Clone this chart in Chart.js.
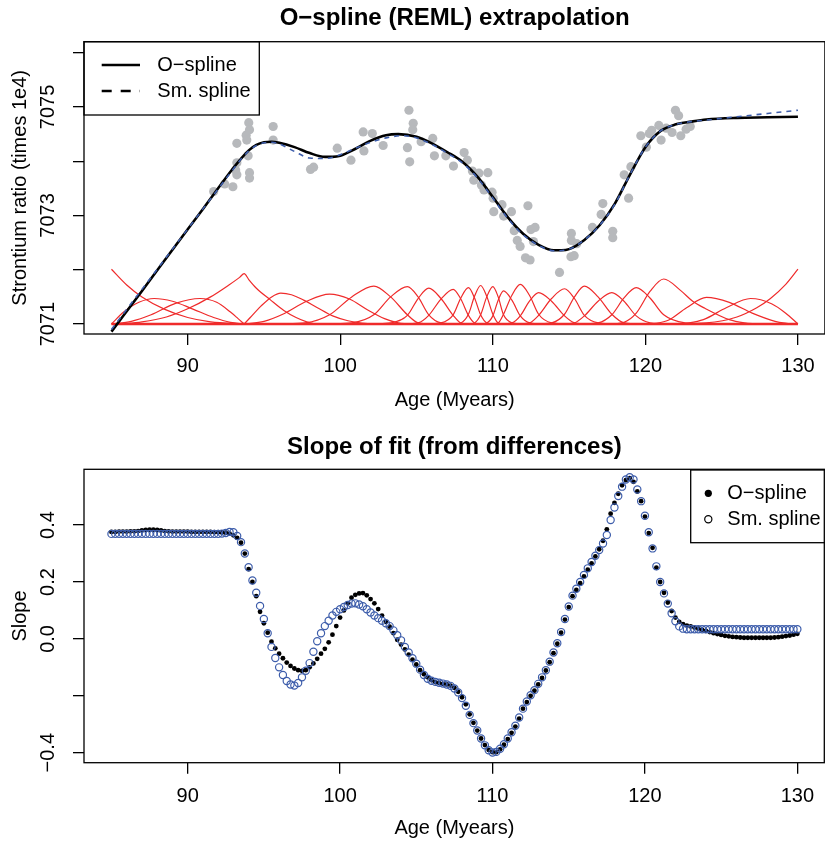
<!DOCTYPE html>
<html><head><meta charset="utf-8">
<script src="https://cdn.jsdelivr.net/npm/chart.js@4.4.0/dist/chart.umd.min.js"></script>
<style>
html,body{margin:0;padding:0;background:#fff;overflow:hidden;width:825px;height:844px;}
#wrap{width:830px;}
canvas{display:block;}
</style></head><body>
<div id="wrap">
<canvas id="c1" width="830" height="422"></canvas>
<canvas id="c2" width="830" height="422"></canvas>
</div>
<script>
// ---------- axis ticks ----------
const xTicks = [90, 100, 110, 120, 130];
const xTickLabels = ['90', '100', '110', '120', '130'];
const topYTicks = [7071, 7072, 7073, 7074, 7075, 7076];
const topYTickLabels = ['7071', '', '7073', '', '7075', ''];
const slopeYTicks = [-0.4, -0.2, 0, 0.2, 0.4];
const slopeYTickLabels = ['\u22120.4', '', '0.0', '0.2', '0.4'];

// ---------- observed data (grey points) ----------
const obsAge = [91.7, 92.42, 92.96, 93.14, 93.22, 93.22, 93.22, 93.83, 93.87, 94.0, 94.05, 93.96, 94.05, 94.05, 95.6, 95.6, 98.05, 98.25, 99.8, 100.7, 101.5, 101.55, 102.1, 102.81, 104.5, 104.78, 104.75, 104.4, 104.55, 105.3, 106.06, 106.17, 106.92, 107.42, 108.12, 108.33, 108.66, 108.75, 109.09, 109.67, 109.25, 109.42, 109.95, 110.02, 110.6, 110.06, 110.71, 111.22, 112.3, 111.4, 111.6, 111.79, 112.5, 112.77, 112.66, 112.14, 112.44, 114.37, 115.15, 115.15, 115.5, 115.12, 115.33, 116.53, 117.1, 117.21, 117.86, 117.86, 118.9, 118.61, 119.05, 119.7, 120.06, 120.26, 120.41, 120.88, 121.03, 121.36, 121.75, 121.97, 122.18, 122.32, 122.67, 122.94];
const obsRatio = [7073.44, 7073.58, 7073.53, 7073.84, 7073.97, 7073.75, 7074.33, 7074.48, 7074.39, 7074.71, 7074.58, 7074.10, 7073.79, 7073.69, 7074.64, 7074.39, 7073.85, 7073.89, 7074.24, 7074.02, 7074.54, 7074.19, 7074.51, 7074.29, 7074.94, 7074.70, 7074.58, 7074.25, 7073.99, 7074.36, 7074.42, 7074.10, 7074.10, 7073.91, 7074.16, 7074.02, 7073.82, 7073.65, 7073.78, 7073.79, 7073.56, 7073.47, 7073.43, 7073.32, 7073.20, 7073.07, 7072.99, 7073.07, 7073.18, 7072.72, 7072.54, 7072.43, 7072.74, 7072.78, 7072.52, 7072.22, 7072.18, 7071.95, 7072.67, 7072.54, 7072.48, 7072.24, 7072.26, 7072.78, 7073.02, 7073.22, 7072.71, 7072.59, 7073.32, 7073.75, 7073.90, 7074.47, 7074.26, 7074.51, 7074.57, 7074.66, 7074.39, 7074.61, 7074.53, 7074.94, 7074.84, 7074.47, 7074.59, 7074.64];

// ---------- fitted curves ----------
const oFitAge = [85, 87, 89, 91, 93, 93.5, 94, 94.5, 95, 95.5, 96, 97, 98, 99, 99.5, 100, 101, 102, 103, 103.8, 105, 106, 107, 108, 109, 110, 111, 112, 113, 114, 114.5, 115, 116, 117, 118, 119, 120, 121, 122, 123, 124, 126, 128, 130];
const oFitRatio = [7070.86, 7071.61, 7072.37, 7073.12, 7073.88, 7074.05, 7074.20, 7074.30, 7074.35, 7074.36, 7074.34, 7074.26, 7074.15, 7074.08, 7074.08, 7074.10, 7074.23, 7074.38, 7074.48, 7074.50, 7074.45, 7074.33, 7074.17, 7073.99, 7073.71, 7073.34, 7072.96, 7072.66, 7072.46, 7072.36, 7072.36, 7072.38, 7072.55, 7072.82, 7073.22, 7073.76, 7074.26, 7074.56, 7074.68, 7074.73, 7074.77, 7074.80, 7074.81, 7074.82];
const smFitAge = [85, 89, 93, 93.5, 94, 94.5, 95, 95.5, 96, 97, 98, 99, 100, 101, 102, 103, 104, 105, 106, 107, 108, 109, 110, 111, 112, 113, 114, 115, 116, 117, 118, 119, 120, 121, 122, 123, 124, 126, 128, 130];
const smFitRatio = [7070.90, 7072.38, 7073.86, 7074.04, 7074.19, 7074.29, 7074.34, 7074.35, 7074.32, 7074.18, 7074.06, 7074.05, 7074.12, 7074.24, 7074.35, 7074.43, 7074.47, 7074.43, 7074.31, 7074.15, 7073.97, 7073.69, 7073.32, 7072.94, 7072.64, 7072.45, 7072.35, 7072.38, 7072.55, 7072.82, 7073.21, 7073.76, 7074.26, 7074.56, 7074.68, 7074.73, 7074.76, 7074.82, 7074.88, 7074.94];

// ---------- basis functions (age, height above baseline) ----------
const basisBase = 7071;
const basis01 = [[85,1.01],[86,0.72],[87,0.50],[88.5,0.27],[90,0.12],[91.5,0.04],[93.7,0]];
const basis02 = [[85,0],[85.8,0.22],[86.8,0.40],[87.8,0.47],[89,0.42],[90.3,0.28],[91.7,0.12],[92.8,0.03],[93.7,0]];
const basis03 = [[85,0],[86.3,0.05],[87.6,0.17],[89.2,0.38],[90.8,0.47],[91.9,0.40],[92.8,0.22],[93.3,0.10],[93.7,0]];
const basis04 = [[85.5,0],[87,0.04],[88.6,0.13],[90,0.28],[91.5,0.50],[92.7,0.72],[93.4,0.86],[93.7,0.93],[94.0,0.82],[94.5,0.66],[95.4,0.45],[96.3,0.25],[97.1,0.12],[97.8,0.04],[98.4,0]];
const basis05 = [[93.7,0],[94.1,0.12],[94.8,0.33],[95.5,0.50],[96.1,0.57],[96.8,0.54],[97.6,0.44],[98.5,0.30],[99.5,0.15],[100.5,0.06],[101.4,0.015],[102.2,0]];
const basis06 = [[93.7,0],[95,0.05],[96.3,0.19],[97.8,0.42],[99.3,0.55],[100.6,0.46],[101.8,0.26],[102.9,0.10],[103.8,0.02],[104.4,0]];
const basis07 = [[96.1,0],[97.7,0.02],[99.3,0.17],[100.75,0.50],[102.2,0.70],[103.3,0.50],[104.4,0.17],[105.1,0.02],[105.8,0]];
const basis08 = [[99.3,0],[100.75,0.02],[102.2,0.17],[103.3,0.50],[104.4,0.69],[105.1,0.50],[105.8,0.17],[106.6,0.02],[107.4,0]];
const basis09 = [[102.2,0],[103.3,0.02],[104.4,0.16],[105.1,0.47],[105.8,0.66],[106.6,0.47],[107.4,0.16],[107.9,0.02],[108.4,0]];
const basis10 = [[104.4,0],[105.1,0.02],[105.8,0.16],[106.6,0.46],[107.4,0.64],[107.9,0.46],[108.4,0.16],[108.8,0.02],[109.2,0]];
const basis11 = [[105.8,0],[106.6,0.02],[107.4,0.17],[107.9,0.48],[108.4,0.67],[108.8,0.48],[109.2,0.17],[109.6,0.02],[110.0,0]];
const basis12 = [[107.4,0],[107.9,0.02],[108.4,0.18],[108.8,0.51],[109.2,0.71],[109.6,0.51],[110.0,0.18],[110.35,0.02],[110.7,0]];
const basis13 = [[108.4,0],[108.8,0.02],[109.2,0.17],[109.6,0.50],[110.0,0.69],[110.35,0.50],[110.7,0.17],[111.25,0.02],[111.8,0]];
const basis14 = [[109.2,0],[109.6,0.02],[110.0,0.15],[110.35,0.44],[110.7,0.61],[111.25,0.44],[111.8,0.15],[112.4,0.02],[113.0,0]];
const basis15 = [[110.0,0],[110.35,0.02],[110.7,0.18],[111.25,0.53],[111.8,0.73],[112.4,0.53],[113.0,0.18],[113.85,0.02],[114.7,0]];
const basis16 = [[110.7,0],[111.25,0.02],[111.8,0.15],[112.4,0.42],[113.0,0.58],[113.85,0.42],[114.7,0.15],[115.35,0.02],[116.0,0]];
const basis17 = [[111.8,0],[112.4,0.02],[113.0,0.16],[113.85,0.47],[114.7,0.65],[115.35,0.47],[116.0,0.16],[116.9,0.02],[117.8,0]];
const basis18 = [[113.0,0],[113.85,0.02],[114.7,0.18],[115.35,0.50],[116.0,0.70],[116.9,0.50],[117.8,0.18],[118.6,0.02],[119.4,0]];
const basis19 = [[114.7,0],[115.35,0.02],[116.0,0.15],[116.9,0.42],[117.8,0.58],[118.6,0.42],[119.4,0.15],[120.3,0.02],[121.2,0]];
const basis20 = [[116.0,0],[116.9,0.02],[117.8,0.17],[118.6,0.48],[119.4,0.67],[120.3,0.48],[121.2,0.17],[122.6,0.02],[124.0,0]];
const basis21 = [[117.8,0],[118.6,0.03],[119.4,0.20],[120.3,0.60],[121.2,0.83],[122.3,0.62],[123.1,0.42],[123.9,0.29],[125.5,0.08],[126.5,0.02],[127.3,0]];
const basis22 = [[120.4,0],[121.5,0.07],[122.7,0.30],[124,0.49],[125.5,0.40],[127,0.20],[128.5,0.05],[129.5,0]];
const basis23 = [[122.4,0],[123.8,0.08],[125.3,0.30],[126.9,0.47],[128.3,0.37],[129.2,0.20],[130,0]];
const basis24 = [[121.7,0],[124,0.02],[126,0.13],[127.3,0.30],[128.2,0.47],[129.2,0.73],[130,1.01]];
const basisList = [basis01, basis02, basis03, basis04, basis05, basis06, basis07, basis08, basis09, basis10, basis11, basis12, basis13, basis14, basis15, basis16, basis17, basis18, basis19, basis20, basis21, basis22, basis23, basis24];
const baselineAge = [85, 130];

// ---------- slope (differences) ----------
const slopeAgeStart = 85, slopeAgeStep = 0.25;
const oSlope = [
 .376,.376,.377,.377,.377,.378,.378,.379,.381,.383,
 .384,.384,.383,.381,.379,.378,.377,.377,.377,.377,
 .377,.376,.376,.376,.376,.376,.376,.375,.375,.374,
 .373,.370,.364,.355,.338,.300,.245,.200,.150,.095,
 .055,.022,-.010,-.033,-.052,-.068,-.083,-.095,-.104,-.110,
 -.112,-.110,-.100,-.086,-.070,-.052,-.035,-.012,.015,.045,
 .075,.100,.125,.145,.155,.160,.161,.153,.140,.125,
 .105,.082,.060,.043,.020,-.003,-.020,-.037,-.055,-.073,
 -.090,-.110,-.124,-.135,-.145,-.152,-.155,-.158,-.160,-.164,
 -.172,-.186,-.205,-.230,-.265,-.295,-.322,-.350,-.373,-.390,
 -.398,-.398,-.388,-.372,-.352,-.330,-.308,-.280,-.245,-.222,
 -.200,-.182,-.160,-.137,-.111,-.082,-.050,-.017,.022,.068,
 .112,.150,.172,.196,.220,.243,.265,.290,.315,.345,
 .385,.440,.478,.510,.540,.558,.565,.552,.518,.484,
 .430,.372,.320,.250,.200,.162,.128,.098,.075,.060,
 .052,.047,.044,.040,.036,.032,.028,.024,.020,.017,
 .014,.011,.009,.007,.006,.005,.004,.004,.004,.004,
 .004,.004,.004,.004,.005,.006,.008,.010,.012,.015,
 .018];
const smSlope = [
 .369,.369,.369,.369,.369,.369,.369,.369,.369,.369,
 .369,.369,.369,.369,.369,.369,.369,.369,.369,.369,
 .369,.369,.369,.369,.369,.369,.369,.369,.369,.370,
 .372,.376,.375,.362,.340,.300,.252,.205,.162,.116,
 .070,.020,-.028,-.067,-.100,-.127,-.148,-.160,-.164,-.155,
 -.135,-.112,-.085,-.045,-.008,.020,.045,.064,.082,.095,
 .104,.112,.119,.124,.125,.121,.115,.104,.093,.082,
 .073,.064,.055,.045,.030,.013,-.005,-.028,-.048,-.068,
 -.087,-.108,-.127,-.140,-.147,-.151,-.154,-.157,-.160,-.165,
 -.174,-.188,-.208,-.235,-.267,-.296,-.322,-.350,-.374,-.391,
 -.399,-.397,-.386,-.370,-.350,-.328,-.305,-.276,-.245,-.220,
 -.198,-.180,-.158,-.135,-.110,-.080,-.048,-.015,.024,.070,
 .114,.152,.176,.200,.225,.248,.270,.292,.312,.335,
 .365,.418,.462,.502,.535,.560,.568,.560,.525,.484,
 .433,.375,.318,.255,.200,.160,.124,.090,.062,.044,
 .036,.034,.034,.034,.034,.034,.034,.034,.034,.034,
 .034,.034,.034,.034,.034,.034,.034,.034,.034,.034,
 .034,.034,.034,.034,.034,.034,.034,.034,.034,.034,
 .034];
const slopeAge = oSlope.map((_, i) => slopeAgeStart + slopeAgeStep * i);

// ---------- styling ----------
const FONT = "'Liberation Sans', Arial, Helvetica, sans-serif";
const FS = 20;
const BLUE = '#3d5dab';
const GREY = '#b7b9bc';
const RED = '#ef2b2b';

const xy = (xs, ys) => xs.map((x, i) => ({x: x, y: ys[i]}));

function rAxes(cfg) {
  return {
    x: {
      type: 'linear', min: cfg.xmin, max: cfg.xmax,
      afterBuildTicks: s => { s.ticks = xTicks.map(v => ({value: v})); },
      afterFit: s => { s.height = cfg.xAxisH; },
      grid: {drawOnChartArea: false, drawTicks: true, tickLength: 11, color: '#000', lineWidth: 1.3},
      border: {display: false},
      ticks: {font: {family: FONT, size: FS}, color: '#000', padding: cfg.xTickPad, maxRotation: 0, minRotation: 0, autoSkip: false,
              callback: (v) => { const k = xTicks.indexOf(v); return k >= 0 ? xTickLabels[k] : ''; }},
      title: {display: true, text: 'Age (Myears)', font: {family: FONT, size: FS}, color: '#000', padding: {top: 0, bottom: cfg.xTitlePad}}
    },
    y: {
      type: 'linear', min: cfg.ymin, max: cfg.ymax,
      afterBuildTicks: s => { s.ticks = cfg.yTicks.map(v => ({value: v})); },
      afterFit: s => { s.width = 84; },
      grid: {drawOnChartArea: false, drawTicks: true, tickLength: 11, color: '#000', lineWidth: 1.3},
      border: {display: false},
      ticks: {display: false},
      title: {display: true, text: cfg.yTitle, font: {family: FONT, size: FS}, color: '#000', padding: {top: 8, bottom: 0}}
    }
  };
}

function rStylePlugin(yTicks, yLabels, labelX, legendFn) {
  return {
    id: 'rstyle',
    afterDraw(chart) {
      const {ctx, chartArea: a, scales} = chart;
      ctx.save();
      ctx.strokeStyle = '#000'; ctx.lineWidth = 1.3; ctx.setLineDash([]);
      ctx.strokeRect(a.left, a.top, a.right - a.left - 0.5, a.bottom - a.top);
      ctx.fillStyle = '#000';
      ctx.font = FS + 'px ' + FONT;
      ctx.textAlign = 'center'; ctx.textBaseline = 'middle';
      yTicks.forEach((v, i) => {
        if (!yLabels[i]) return;
        const py = scales.y.getPixelForValue(v);
        ctx.save(); ctx.translate(labelX, py); ctx.rotate(-Math.PI / 2);
        ctx.fillText(yLabels[i], 0, 0); ctx.restore();
      });
      legendFn(ctx, a);
      ctx.restore();
    }
  };
}

// ---------- top chart ----------
const topDatasets = [];
topDatasets.push({label: 'Sm. spline', data: xy(smFitAge, smFitRatio), showLine: true, borderColor: BLUE, borderWidth: 1.6, borderDash: [5, 5], pointRadius: 0, cubicInterpolationMode: 'monotone', order: 1});
topDatasets.push({label: 'O\u2212spline', data: xy(oFitAge, oFitRatio), showLine: true, borderColor: '#000', borderWidth: 2.6, pointRadius: 0, cubicInterpolationMode: 'monotone', order: 2});
basisList.forEach((b, i) => {
  topDatasets.push({label: 'basis ' + (i + 1), data: b.map(p => ({x: p[0], y: basisBase + p[1]})), showLine: true, borderColor: RED, borderWidth: 1.2, pointRadius: 0, cubicInterpolationMode: 'monotone', order: 3});
});
topDatasets.push({label: 'baseline', data: baselineAge.map(x => ({x: x, y: basisBase})), showLine: true, borderColor: RED, borderWidth: 2.4, pointRadius: 0, order: 3});
topDatasets.push({label: 'data', data: xy(obsAge, obsRatio), showLine: false, pointRadius: 4.6, pointBackgroundColor: GREY, pointBorderWidth: 0, order: 4});

new Chart(document.getElementById('c1'), {
  type: 'scatter',
  data: {datasets: topDatasets},
  options: {
    responsive: false, animation: false, events: [],
    layout: {padding: 0},
    plugins: {
      legend: {display: false}, tooltip: {enabled: false},
      title: {display: true, fullSize: false, text: 'O\u2212spline (REML) extrapolation', color: '#000',
              font: {family: FONT, size: 24, weight: 'bold'}, padding: {top: 3.6, bottom: 9.3}}
    },
    scales: rAxes({xmin: 83.2, xmax: 131.8, ymin: 7070.816, ymax: 7076.203, yTicks: topYTicks, xAxisH: 88, xTickPad: 9, xTitlePad: 10, yTitle: 'Strontium ratio (times 1e4)'})
  },
  plugins: [rStylePlugin(topYTicks, topYTickLabels, 48, (ctx, a) => {
    ctx.lineWidth = 1.3; ctx.strokeStyle = '#000';
    ctx.strokeRect(a.left, a.top, 175.3, 73.3);
    ctx.lineWidth = 2.6;
    ctx.beginPath(); ctx.moveTo(a.left + 17.7, a.top + 23.3); ctx.lineTo(a.left + 56, a.top + 23.3); ctx.stroke();
    ctx.setLineDash([10, 9]);
    ctx.beginPath(); ctx.moveTo(a.left + 17.7, a.top + 49.3); ctx.lineTo(a.left + 56, a.top + 49.3); ctx.stroke();
    ctx.setLineDash([]);
    ctx.textAlign = 'left'; ctx.textBaseline = 'middle';
    ctx.fillText('O\u2212spline', a.left + 73.3, a.top + 23.3);
    ctx.fillText('Sm. spline', a.left + 73.3, a.top + 49.3);
  })]
});

// ---------- bottom chart ----------
new Chart(document.getElementById('c2'), {
  type: 'scatter',
  data: {datasets: [
    {label: 'Sm. spline', data: xy(slopeAge, smSlope), pointRadius: 3.6, pointBorderWidth: 1.2, pointBorderColor: BLUE, pointBackgroundColor: 'rgba(0,0,0,0)', order: 1},
    {label: 'O\u2212spline', data: xy(slopeAge, oSlope), pointRadius: 2.4, pointBorderWidth: 0, pointBackgroundColor: '#000', order: 2}
  ]},
  options: {
    responsive: false, animation: false, events: [],
    layout: {padding: 0},
    plugins: {
      legend: {display: false}, tooltip: {enabled: false},
      title: {display: true, fullSize: false, text: 'Slope of fit (from differences)', color: '#000',
              font: {family: FONT, size: 24, weight: 'bold'}, padding: {top: 10.6, bottom: 7.9}}
    },
    scales: rAxes({xmin: 83.2, xmax: 131.8, ymin: -0.435, ymax: 0.596, yTicks: slopeYTicks, xAxisH: 81.3, xTickPad: 11, xTitlePad: 4, yTitle: 'Slope'})
  },
  plugins: [rStylePlugin(slopeYTicks, slopeYTickLabels, 48, (ctx, a) => {
    ctx.lineWidth = 1.3; ctx.strokeStyle = '#000';
    const lx = 690.7, ly = a.top + 0.7;
    ctx.strokeRect(lx, ly, 150, 72.7);
    ctx.fillStyle = '#000';
    ctx.beginPath(); ctx.arc(lx + 17.6, ly + 23.3, 3.6, 0, Math.PI * 2); ctx.fill();
    ctx.lineWidth = 1.2;
    ctx.beginPath(); ctx.arc(lx + 17.6, ly + 49.3, 3.6, 0, Math.PI * 2); ctx.stroke();
    ctx.textAlign = 'left'; ctx.textBaseline = 'middle';
    ctx.fillText('O\u2212spline', lx + 36.6, ly + 23.3);
    ctx.fillText('Sm. spline', lx + 36.6, ly + 49.3);
  })]
});
</script>
</body></html>
